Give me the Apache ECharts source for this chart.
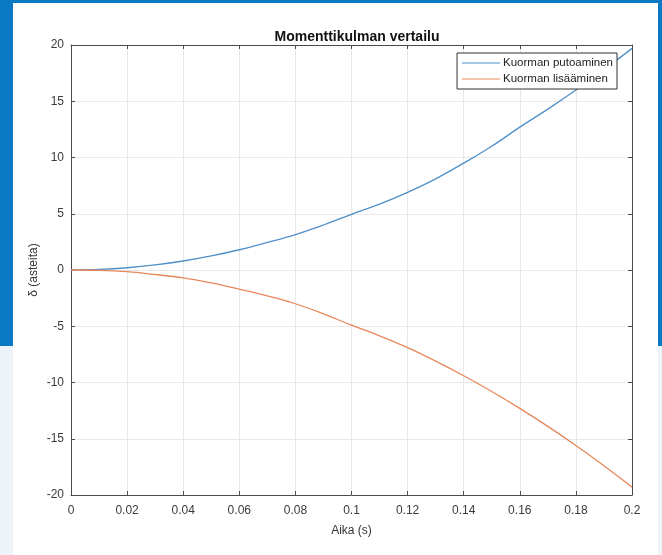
<!DOCTYPE html>
<html>
<head>
<meta charset="utf-8">
<script src="https://cdn.jsdelivr.net/npm/echarts@6/dist/echarts.min.js"></script>
<style>
  html, body { margin: 0; padding: 0; }
  body { width: 662px; height: 555px; position: relative; background: #eef3fa; overflow: hidden; }
  .band { position: absolute; left: 0; top: 0; width: 662px; height: 346px; background: #0a78c2; }
  .panel { position: absolute; left: 13px; top: 3px; width: 645px; height: 552px; background: #fff; }
  #chart { position: absolute; left: 0; top: 0; width: 662px; height: 555px; }
</style>
</head>
<body>
<div class="band"></div>
<div class="panel"></div>
<div id="chart"></div>
<script>
// aika (s)
const times = [0, 0.01, 0.02, 0.03, 0.04, 0.05, 0.06, 0.07, 0.08, 0.09, 0.1,
  0.11, 0.12, 0.13, 0.14, 0.15, 0.16, 0.17, 0.18, 0.19, 0.2]
// kuorman putoaminen (astetta)
const putoaminen = [0, 0.05, 0.2, 0.45, 0.8, 1.25, 1.8, 2.45, 3.15, 4.0, 4.95,
  5.85, 6.9, 8.1, 9.5, 11.0, 12.7, 14.3, 16.0, 17.8, 19.7]
// kuorman lisääminen (astetta)
const lisaaminen = [0, -0.03, -0.15, -0.4, -0.7, -1.15, -1.7, -2.3, -3.0, -3.9, -4.9,
  -5.85, -6.9, -8.1, -9.4, -10.8, -12.3, -13.9, -15.6, -17.4, -19.3]
const seriesNames = ['Kuorman putoaminen', 'Kuorman lisääminen']
const xTicks = [0, 0.2, 0.02]
const yTicks = [-20, 20, 5]

const chart = echarts.init(document.getElementById('chart'))

const axisColor = '#4a4a4a'
const labelColor = '#3a3a3a'
const gridColor = '#e8e8e8'

// yläreuna ja oikea reuna (laatikko)
const boxAxis = {
  axisLine: { show: true, onZero: false, lineStyle: { color: axisColor, width: 1 } },
  axisTick: { show: true, inside: true, length: 4, lineStyle: { color: axisColor } },
  axisLabel: { show: false },
  splitLine: { show: false }
}

chart.setOption({
  backgroundColor: 'transparent',
  animation: false,
  title: {
    text: 'Momenttikulman vertailu',
    left: 352,
    textAlign: 'center',
    top: 25,
    textStyle: { fontFamily: 'Liberation Sans', fontSize: 14, fontWeight: 'bold', color: '#111' }
  },
  legend: {
    orient: 'vertical',
    right: 45,
    top: 53,
    padding: [4, 4, 4, 5],
    itemGap: 4,
    itemWidth: 38,
    itemHeight: 1,
    icon: 'rect',
    backgroundColor: '#fff',
    borderColor: '#333',
    borderWidth: 1,
    borderRadius: 0,
    textStyle: { fontFamily: 'Liberation Sans', fontSize: 11.5, color: '#222', padding: [0, 0, 0, -2] },
    data: seriesNames
  },
  grid: { left: 71, right: 30, top: 45, bottom: 60 },
  xAxis: [
    {
      type: 'value',
      min: xTicks[0], max: xTicks[1], interval: xTicks[2],
      name: 'Aika (s)',
      nameLocation: 'middle',
      nameGap: 30,
      nameTextStyle: { fontFamily: 'Liberation Sans', fontSize: 12, color: '#333' },
      axisLine: { show: true, onZero: false, lineStyle: { color: axisColor, width: 1 } },
      axisTick: { show: true, inside: true, length: 4, lineStyle: { color: axisColor } },
      axisLabel: {
        margin: 10,
        fontFamily: 'Liberation Sans', fontSize: 12, color: labelColor,
        formatter: v => String(+v.toFixed(2))
      },
      splitLine: { show: true, lineStyle: { color: gridColor, width: 1 } }
    },
    Object.assign({ type: 'value', position: 'top', min: xTicks[0], max: xTicks[1], interval: xTicks[2] }, boxAxis)
  ],
  yAxis: [
    {
      type: 'value',
      min: yTicks[0], max: yTicks[1], interval: yTicks[2],
      name: 'δ (asteita)',
      nameLocation: 'middle',
      nameGap: 31,
      nameMoveOverlap: false,
      nameTextStyle: { fontFamily: 'Liberation Sans', fontSize: 12, color: '#333' },
      axisLine: { show: true, onZero: false, lineStyle: { color: axisColor, width: 1 } },
      axisTick: { show: true, inside: true, length: 4, lineStyle: { color: axisColor } },
      axisLabel: { margin: 7, fontFamily: 'Liberation Sans', fontSize: 12, color: labelColor },
      splitLine: { show: true, lineStyle: { color: gridColor, width: 1 } }
    },
    Object.assign({ type: 'value', position: 'right', min: yTicks[0], max: yTicks[1], interval: yTicks[2] }, boxAxis)
  ],
  series: [
    {
      name: seriesNames[0],
      type: 'line',
      smooth: 0.4,
      showSymbol: false,
      data: times.map((t, i) => [t, putoaminen[i]]),
      itemStyle: { color: '#4f8fc8' },
      lineStyle: { color: '#4f8fc8', width: 1.3 }
    },
    {
      name: seriesNames[1],
      type: 'line',
      smooth: 0.4,
      showSymbol: false,
      data: times.map((t, i) => [t, lisaaminen[i]]),
      itemStyle: { color: '#e8875a' },
      lineStyle: { color: '#e8875a', width: 1.3 }
    }
  ]
})
</script>
</body>
</html>
